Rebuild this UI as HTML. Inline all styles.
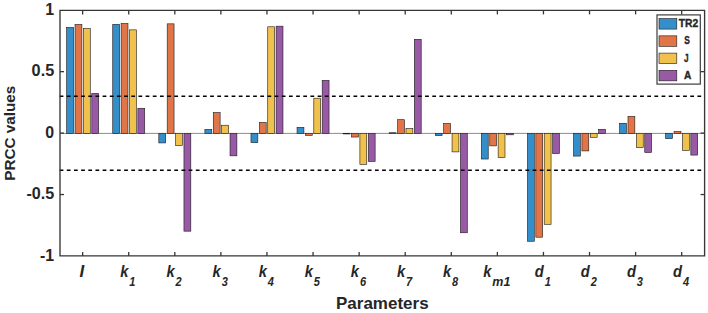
<!DOCTYPE html><html><head><meta charset="utf-8"><style>html,body{margin:0;padding:0;background:#fff;}svg{display:block;}text{font-family:"Liberation Sans",sans-serif;font-weight:bold;fill:#262626;}</style></head><body>
<svg width="708" height="313" viewBox="0 0 708 313">
<rect x="0" y="0" width="708" height="313" fill="#fff"/>
<line x1="60.1" y1="133.4" x2="704.6" y2="133.4" stroke="#8c8c8c" stroke-width="1"/>
<rect x="66.65" y="27.41" width="6.86" height="105.99" fill="rgb(51,142,202)" stroke="#1a1a1a" stroke-width="0.6"/>
<rect x="75.03" y="24.46" width="6.86" height="108.94" fill="rgb(225,117,71)" stroke="#1a1a1a" stroke-width="0.6"/>
<rect x="83.41" y="28.39" width="6.86" height="105.01" fill="rgb(241,193,77)" stroke="#1a1a1a" stroke-width="0.6"/>
<rect x="91.79" y="93.40" width="6.86" height="40.00" fill="rgb(152,89,165)" stroke="#1a1a1a" stroke-width="0.6"/>
<rect x="112.73" y="24.33" width="6.86" height="109.07" fill="rgb(51,142,202)" stroke="#1a1a1a" stroke-width="0.6"/>
<rect x="121.11" y="23.47" width="6.86" height="109.93" fill="rgb(225,117,71)" stroke="#1a1a1a" stroke-width="0.6"/>
<rect x="129.49" y="29.86" width="6.86" height="103.54" fill="rgb(241,193,77)" stroke="#1a1a1a" stroke-width="0.6"/>
<rect x="137.87" y="108.27" width="6.86" height="25.13" fill="rgb(152,89,165)" stroke="#1a1a1a" stroke-width="0.6"/>
<rect x="158.81" y="133.40" width="6.86" height="9.53" fill="rgb(51,142,202)" stroke="#1a1a1a" stroke-width="0.6"/>
<rect x="167.19" y="23.84" width="6.86" height="109.56" fill="rgb(225,117,71)" stroke="#1a1a1a" stroke-width="0.6"/>
<rect x="175.57" y="133.40" width="6.86" height="12.11" fill="rgb(241,193,77)" stroke="#1a1a1a" stroke-width="0.6"/>
<rect x="183.95" y="133.40" width="6.86" height="97.77" fill="rgb(152,89,165)" stroke="#1a1a1a" stroke-width="0.6"/>
<rect x="204.89" y="129.41" width="6.86" height="3.99" fill="rgb(51,142,202)" stroke="#1a1a1a" stroke-width="0.6"/>
<rect x="213.27" y="112.58" width="6.86" height="20.82" fill="rgb(225,117,71)" stroke="#1a1a1a" stroke-width="0.6"/>
<rect x="221.65" y="125.23" width="6.86" height="8.17" fill="rgb(241,193,77)" stroke="#1a1a1a" stroke-width="0.6"/>
<rect x="230.03" y="133.40" width="6.86" height="22.44" fill="rgb(152,89,165)" stroke="#1a1a1a" stroke-width="0.6"/>
<rect x="250.97" y="133.40" width="6.86" height="9.29" fill="rgb(51,142,202)" stroke="#1a1a1a" stroke-width="0.6"/>
<rect x="259.35" y="122.41" width="6.86" height="10.99" fill="rgb(225,117,71)" stroke="#1a1a1a" stroke-width="0.6"/>
<rect x="267.73" y="26.79" width="6.86" height="106.61" fill="rgb(241,193,77)" stroke="#1a1a1a" stroke-width="0.6"/>
<rect x="276.11" y="26.18" width="6.86" height="107.22" fill="rgb(152,89,165)" stroke="#1a1a1a" stroke-width="0.6"/>
<rect x="297.05" y="127.32" width="6.86" height="6.08" fill="rgb(51,142,202)" stroke="#1a1a1a" stroke-width="0.6"/>
<rect x="305.43" y="133.40" width="6.86" height="1.91" fill="rgb(225,117,71)" stroke="#1a1a1a" stroke-width="0.6"/>
<rect x="313.81" y="98.20" width="6.86" height="35.20" fill="rgb(241,193,77)" stroke="#1a1a1a" stroke-width="0.6"/>
<rect x="322.19" y="80.38" width="6.86" height="53.02" fill="rgb(152,89,165)" stroke="#1a1a1a" stroke-width="0.6"/>
<rect x="343.13" y="133.40" width="6.86" height="0.56" fill="rgb(51,142,202)" stroke="#1a1a1a" stroke-width="0.6"/>
<rect x="351.51" y="133.40" width="6.86" height="3.63" fill="rgb(225,117,71)" stroke="#1a1a1a" stroke-width="0.6"/>
<rect x="359.89" y="133.40" width="6.86" height="30.92" fill="rgb(241,193,77)" stroke="#1a1a1a" stroke-width="0.6"/>
<rect x="368.27" y="133.40" width="6.86" height="28.09" fill="rgb(152,89,165)" stroke="#1a1a1a" stroke-width="0.6"/>
<rect x="389.21" y="132.73" width="6.86" height="0.67" fill="rgb(51,142,202)" stroke="#1a1a1a" stroke-width="0.6"/>
<rect x="397.59" y="119.70" width="6.86" height="13.70" fill="rgb(225,117,71)" stroke="#1a1a1a" stroke-width="0.6"/>
<rect x="405.97" y="128.55" width="6.86" height="4.85" fill="rgb(241,193,77)" stroke="#1a1a1a" stroke-width="0.6"/>
<rect x="414.35" y="39.33" width="6.86" height="94.07" fill="rgb(152,89,165)" stroke="#1a1a1a" stroke-width="0.6"/>
<rect x="435.29" y="133.40" width="6.86" height="2.16" fill="rgb(51,142,202)" stroke="#1a1a1a" stroke-width="0.6"/>
<rect x="443.67" y="123.51" width="6.86" height="9.89" fill="rgb(225,117,71)" stroke="#1a1a1a" stroke-width="0.6"/>
<rect x="452.05" y="133.40" width="6.86" height="18.50" fill="rgb(241,193,77)" stroke="#1a1a1a" stroke-width="0.6"/>
<rect x="460.43" y="133.40" width="6.86" height="99.37" fill="rgb(152,89,165)" stroke="#1a1a1a" stroke-width="0.6"/>
<rect x="481.37" y="133.40" width="6.86" height="25.63" fill="rgb(51,142,202)" stroke="#1a1a1a" stroke-width="0.6"/>
<rect x="489.75" y="133.40" width="6.86" height="12.48" fill="rgb(225,117,71)" stroke="#1a1a1a" stroke-width="0.6"/>
<rect x="498.13" y="133.40" width="6.86" height="24.16" fill="rgb(241,193,77)" stroke="#1a1a1a" stroke-width="0.6"/>
<rect x="506.51" y="133.40" width="6.86" height="1.42" fill="rgb(152,89,165)" stroke="#1a1a1a" stroke-width="0.6"/>
<rect x="527.45" y="133.40" width="6.86" height="107.85" fill="rgb(51,142,202)" stroke="#1a1a1a" stroke-width="0.6"/>
<rect x="535.83" y="133.40" width="6.86" height="103.80" fill="rgb(225,117,71)" stroke="#1a1a1a" stroke-width="0.6"/>
<rect x="544.21" y="133.40" width="6.86" height="90.89" fill="rgb(241,193,77)" stroke="#1a1a1a" stroke-width="0.6"/>
<rect x="552.59" y="133.40" width="6.86" height="20.22" fill="rgb(152,89,165)" stroke="#1a1a1a" stroke-width="0.6"/>
<rect x="573.53" y="133.40" width="6.86" height="22.68" fill="rgb(51,142,202)" stroke="#1a1a1a" stroke-width="0.6"/>
<rect x="581.91" y="133.40" width="6.86" height="17.52" fill="rgb(225,117,71)" stroke="#1a1a1a" stroke-width="0.6"/>
<rect x="590.29" y="133.40" width="6.86" height="3.88" fill="rgb(241,193,77)" stroke="#1a1a1a" stroke-width="0.6"/>
<rect x="598.67" y="129.29" width="6.86" height="4.11" fill="rgb(152,89,165)" stroke="#1a1a1a" stroke-width="0.6"/>
<rect x="619.61" y="123.27" width="6.86" height="10.13" fill="rgb(51,142,202)" stroke="#1a1a1a" stroke-width="0.6"/>
<rect x="627.99" y="116.39" width="6.86" height="17.01" fill="rgb(225,117,71)" stroke="#1a1a1a" stroke-width="0.6"/>
<rect x="636.37" y="133.40" width="6.86" height="14.20" fill="rgb(241,193,77)" stroke="#1a1a1a" stroke-width="0.6"/>
<rect x="644.75" y="133.40" width="6.86" height="19.12" fill="rgb(152,89,165)" stroke="#1a1a1a" stroke-width="0.6"/>
<rect x="665.69" y="133.40" width="6.86" height="5.23" fill="rgb(51,142,202)" stroke="#1a1a1a" stroke-width="0.6"/>
<rect x="674.07" y="131.50" width="6.86" height="1.90" fill="rgb(225,117,71)" stroke="#1a1a1a" stroke-width="0.6"/>
<rect x="682.45" y="133.40" width="6.86" height="16.91" fill="rgb(241,193,77)" stroke="#1a1a1a" stroke-width="0.6"/>
<rect x="690.83" y="133.40" width="6.86" height="21.70" fill="rgb(152,89,165)" stroke="#1a1a1a" stroke-width="0.6"/>
<line x1="59.64" y1="96.30" x2="704.6" y2="96.30" stroke="#000" stroke-width="1.5" stroke-dasharray="3.75 3.416"/>
<line x1="59.64" y1="170.25" x2="704.6" y2="170.25" stroke="#000" stroke-width="1.5" stroke-dasharray="3.75 3.416"/>
<path d="M60.0 10.4H704.6M60.0 255.9H704.6M60.0 10.4V255.9M704.6 10.4V255.9" fill="none" stroke="#363636" stroke-width="1.35" stroke-linecap="square"/>
<line x1="82.65" y1="255.9" x2="82.65" y2="251.9" stroke="#363636" stroke-width="1.3"/>
<line x1="82.65" y1="10.4" x2="82.65" y2="14.4" stroke="#363636" stroke-width="1.3"/>
<line x1="128.73" y1="255.9" x2="128.73" y2="251.9" stroke="#363636" stroke-width="1.3"/>
<line x1="128.73" y1="10.4" x2="128.73" y2="14.4" stroke="#363636" stroke-width="1.3"/>
<line x1="174.81" y1="255.9" x2="174.81" y2="251.9" stroke="#363636" stroke-width="1.3"/>
<line x1="174.81" y1="10.4" x2="174.81" y2="14.4" stroke="#363636" stroke-width="1.3"/>
<line x1="220.89" y1="255.9" x2="220.89" y2="251.9" stroke="#363636" stroke-width="1.3"/>
<line x1="220.89" y1="10.4" x2="220.89" y2="14.4" stroke="#363636" stroke-width="1.3"/>
<line x1="266.97" y1="255.9" x2="266.97" y2="251.9" stroke="#363636" stroke-width="1.3"/>
<line x1="266.97" y1="10.4" x2="266.97" y2="14.4" stroke="#363636" stroke-width="1.3"/>
<line x1="313.05" y1="255.9" x2="313.05" y2="251.9" stroke="#363636" stroke-width="1.3"/>
<line x1="313.05" y1="10.4" x2="313.05" y2="14.4" stroke="#363636" stroke-width="1.3"/>
<line x1="359.13" y1="255.9" x2="359.13" y2="251.9" stroke="#363636" stroke-width="1.3"/>
<line x1="359.13" y1="10.4" x2="359.13" y2="14.4" stroke="#363636" stroke-width="1.3"/>
<line x1="405.21" y1="255.9" x2="405.21" y2="251.9" stroke="#363636" stroke-width="1.3"/>
<line x1="405.21" y1="10.4" x2="405.21" y2="14.4" stroke="#363636" stroke-width="1.3"/>
<line x1="451.29" y1="255.9" x2="451.29" y2="251.9" stroke="#363636" stroke-width="1.3"/>
<line x1="451.29" y1="10.4" x2="451.29" y2="14.4" stroke="#363636" stroke-width="1.3"/>
<line x1="497.37" y1="255.9" x2="497.37" y2="251.9" stroke="#363636" stroke-width="1.3"/>
<line x1="497.37" y1="10.4" x2="497.37" y2="14.4" stroke="#363636" stroke-width="1.3"/>
<line x1="543.45" y1="255.9" x2="543.45" y2="251.9" stroke="#363636" stroke-width="1.3"/>
<line x1="543.45" y1="10.4" x2="543.45" y2="14.4" stroke="#363636" stroke-width="1.3"/>
<line x1="589.53" y1="255.9" x2="589.53" y2="251.9" stroke="#363636" stroke-width="1.3"/>
<line x1="589.53" y1="10.4" x2="589.53" y2="14.4" stroke="#363636" stroke-width="1.3"/>
<line x1="635.61" y1="255.9" x2="635.61" y2="251.9" stroke="#363636" stroke-width="1.3"/>
<line x1="635.61" y1="10.4" x2="635.61" y2="14.4" stroke="#363636" stroke-width="1.3"/>
<line x1="681.69" y1="255.9" x2="681.69" y2="251.9" stroke="#363636" stroke-width="1.3"/>
<line x1="681.69" y1="10.4" x2="681.69" y2="14.4" stroke="#363636" stroke-width="1.3"/>
<line x1="60.0" y1="71.65" x2="64.0" y2="71.65" stroke="#363636" stroke-width="1.3"/>
<line x1="704.6" y1="71.65" x2="700.6" y2="71.65" stroke="#363636" stroke-width="1.3"/>
<line x1="60.0" y1="133.10" x2="64.0" y2="133.10" stroke="#363636" stroke-width="1.3"/>
<line x1="704.6" y1="133.10" x2="700.6" y2="133.10" stroke="#363636" stroke-width="1.3"/>
<line x1="60.0" y1="194.55" x2="64.0" y2="194.55" stroke="#363636" stroke-width="1.3"/>
<line x1="704.6" y1="194.55" x2="700.6" y2="194.55" stroke="#363636" stroke-width="1.3"/>
<text x="54.2" y="14.80" font-size="15.9" text-anchor="end">1</text>
<text x="54.2" y="76.25" font-size="15.9" text-anchor="end" textLength="22.6" lengthAdjust="spacingAndGlyphs">0.5</text>
<text x="54.2" y="137.70" font-size="15.9" text-anchor="end">0</text>
<text x="54.2" y="199.15" font-size="15.9" text-anchor="end" textLength="27.8" lengthAdjust="spacingAndGlyphs">-0.5</text>
<text x="54.2" y="260.60" font-size="15.9" text-anchor="end">-1</text>
<text x="81.75" y="276.9" font-size="17" font-style="italic" text-anchor="middle">I</text>
<g transform="translate(127.83,276.9) scale(0.95,1.08)"><text x="0" y="0" font-size="15.5" font-style="italic" text-anchor="middle">k<tspan font-size="11.6" dx="1.0" dy="8.5">1</tspan></text></g>
<g transform="translate(174.11,276.9) scale(0.95,1.08)"><text x="0" y="0" font-size="15.5" font-style="italic" text-anchor="middle">k<tspan font-size="11.6" dx="1.0" dy="8.5">2</tspan></text></g>
<g transform="translate(220.19,276.9) scale(0.95,1.08)"><text x="0" y="0" font-size="15.5" font-style="italic" text-anchor="middle">k<tspan font-size="11.6" dx="1.0" dy="8.5">3</tspan></text></g>
<g transform="translate(266.27,276.9) scale(0.95,1.08)"><text x="0" y="0" font-size="15.5" font-style="italic" text-anchor="middle">k<tspan font-size="11.6" dx="1.0" dy="8.5">4</tspan></text></g>
<g transform="translate(312.35,276.9) scale(0.95,1.08)"><text x="0" y="0" font-size="15.5" font-style="italic" text-anchor="middle">k<tspan font-size="11.6" dx="1.0" dy="8.5">5</tspan></text></g>
<g transform="translate(358.43,276.9) scale(0.95,1.08)"><text x="0" y="0" font-size="15.5" font-style="italic" text-anchor="middle">k<tspan font-size="11.6" dx="1.0" dy="8.5">6</tspan></text></g>
<g transform="translate(404.51,276.9) scale(0.95,1.08)"><text x="0" y="0" font-size="15.5" font-style="italic" text-anchor="middle">k<tspan font-size="11.6" dx="1.0" dy="8.5">7</tspan></text></g>
<g transform="translate(450.59,276.9) scale(0.95,1.08)"><text x="0" y="0" font-size="15.5" font-style="italic" text-anchor="middle">k<tspan font-size="11.6" dx="1.0" dy="8.5">8</tspan></text></g>
<g transform="translate(496.77,276.9) scale(0.95,1.08)"><text x="0" y="0" font-size="15.5" font-style="italic" text-anchor="middle">k<tspan font-size="11.6" dx="1.0" dy="8.5" textLength="19" lengthAdjust="spacingAndGlyphs">m1</tspan></text></g>
<g transform="translate(542.75,276.9) scale(0.95,1.08)"><text x="0" y="0" font-size="15.5" font-style="italic" text-anchor="middle">d<tspan font-size="11.6" dx="1.0" dy="8.5">1</tspan></text></g>
<g transform="translate(588.83,276.9) scale(0.95,1.08)"><text x="0" y="0" font-size="15.5" font-style="italic" text-anchor="middle">d<tspan font-size="11.6" dx="1.0" dy="8.5">2</tspan></text></g>
<g transform="translate(634.91,276.9) scale(0.95,1.08)"><text x="0" y="0" font-size="15.5" font-style="italic" text-anchor="middle">d<tspan font-size="11.6" dx="1.0" dy="8.5">3</tspan></text></g>
<g transform="translate(680.99,276.9) scale(0.95,1.08)"><text x="0" y="0" font-size="15.5" font-style="italic" text-anchor="middle">d<tspan font-size="11.6" dx="1.0" dy="8.5">4</tspan></text></g>
<text x="382.3" y="308.7" font-size="16.3" text-anchor="middle" textLength="92.6" lengthAdjust="spacingAndGlyphs">Parameters</text>
<text transform="translate(15.4,133.2) rotate(-90)" x="0" y="0" font-size="15.4" text-anchor="middle" textLength="95" lengthAdjust="spacingAndGlyphs">PRCC values</text>
<rect x="657" y="14.9" width="43.3" height="69.2" fill="#fff" stroke="#3c3c3c" stroke-width="1.2"/>
<rect x="659" y="18.60" width="17.8" height="10.5" fill="rgb(51,142,202)" stroke="#1a1a1a" stroke-width="0.6"/>
<text x="678.7" y="27.00" font-size="10.3" stroke="#262626" stroke-width="0.35">TR2</text>
<rect x="659" y="35.85" width="17.8" height="10.5" fill="rgb(225,117,71)" stroke="#1a1a1a" stroke-width="0.6"/>
<text x="684.2" y="44.25" font-size="10.3" stroke="#262626" stroke-width="0.35" textLength="5.6" lengthAdjust="spacingAndGlyphs">S</text>
<rect x="659" y="53.10" width="17.8" height="10.5" fill="rgb(241,193,77)" stroke="#1a1a1a" stroke-width="0.6"/>
<text x="683.9" y="61.50" font-size="10.3" stroke="#262626" stroke-width="0.35" textLength="4.6" lengthAdjust="spacingAndGlyphs">J</text>
<rect x="659" y="70.35" width="17.8" height="10.5" fill="rgb(152,89,165)" stroke="#1a1a1a" stroke-width="0.6"/>
<text x="683.9" y="78.75" font-size="10.3" stroke="#262626" stroke-width="0.35" textLength="7.3" lengthAdjust="spacingAndGlyphs">A</text>
</svg></body></html>
